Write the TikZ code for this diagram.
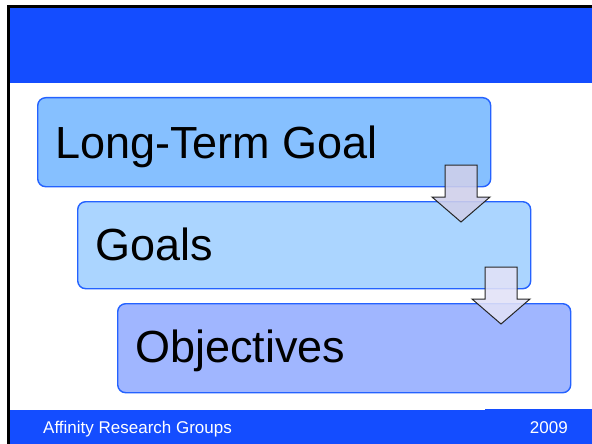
\documentclass[tikz,border=0pt]{standalone}
\usepackage{fontspec}
\setmainfont{Liberation Sans}
\begin{document}
\begin{tikzpicture}[x=1pt,y=-1pt,
  slideblue/.style={fill=headblue,draw=none},
  stagebox/.style={draw=edgeblue,line width=1.4pt,rounded corners=8pt},
  stagetext/.style={anchor=base west,inner sep=0pt,font=\fontsize{45}{50}\selectfont,text=black},
  downarrow/.style={draw=black!85,line width=1pt,fill opacity=0.88,line join=miter},
  foot/.style={inner sep=0pt,font=\fontsize{17}{20}\selectfont,text=white}]
\definecolor{headblue}{HTML}{144DFF}
\definecolor{edgeblue}{HTML}{2462FF}
\definecolor{fillA}{HTML}{86C0FF}
\definecolor{fillB}{HTML}{ABD5FF}
\definecolor{fillC}{HTML}{A0B6FF}
\definecolor{arrowA}{HTML}{CFCFEA}
\definecolor{arrowB}{HTML}{E2E2F8}
\useasboundingbox (0,0) rectangle (592,444);
\fill[white] (0,0) rectangle (592,444);

% slide frame, title band and footer band
\fill[black] (7,5) rectangle (592,8);
\fill[slideblue] (9.5,8) rectangle (592,83);
\fill[slideblue] (9.5,410) rectangle (592,444);
\fill[slideblue] (485,409) rectangle (592,410);
\fill[black] (7,5) rectangle (9.5,444);

% the three stacked stages
\node[stagebox,fill=fillA,anchor=north west,minimum width=453pt,minimum height=89pt,inner sep=0pt] (box1) at (37,97) {};
\node[stagebox,fill=fillB,anchor=north west,minimum width=453pt,minimum height=87pt,inner sep=0pt] (box2) at (77,201) {};
\node[stagebox,fill=fillC,anchor=north west,minimum width=453pt,minimum height=89pt,inner sep=0pt] (box3) at (117,303) {};

\node[stagetext] (t1) at (55,158) {Long-Term Goal};
\node[stagetext] (t2) at (95,260) {Goals};
\node[stagetext] (t3) at (135,362) {Objectives};

% block arrows between stages
\draw[downarrow,fill=arrowA] (445,165) -- (477,165) -- (477,197) -- (490,197)
  -- (461,222) -- (432,197) -- (445,197) -- cycle;
\draw[downarrow,fill=arrowB] (485,267) -- (517,267) -- (517,299) -- (530,299)
  -- (501,324) -- (472,299) -- (485,299) -- cycle;

% footer texts
\node[foot,anchor=base west] (org) at (43,433) {Affinity Research Groups};
\node[foot,anchor=base east] (year) at (568,433) {2009};
\end{tikzpicture}
\end{document}
